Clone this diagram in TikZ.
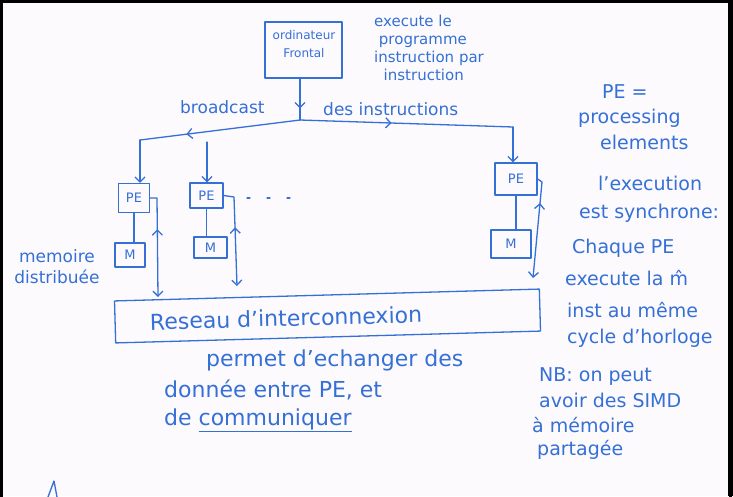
\documentclass[tikz,border=0pt]{standalone}
\usepackage{fontspec}
\setmainfont{DejaVu Sans}
\usetikzlibrary{arrows.meta,decorations.markings}
\definecolor{pen}{RGB}{52,112,214}
\definecolor{paper}{RGB}{253,250,253}
\begin{document}
\begin{tikzpicture}[x=1pt,y=-1pt,
  pen/.style={draw=pen, line width=1.3pt, line cap=round, line join=round},
  penarrow/.style={-{Straight Barb[length=5pt,width=10pt]}},
  box/.style={pen, rectangle, inner sep=0pt, text=pen},
  hw/.style={text=pen, inner sep=0pt, anchor=west},
  midarrow/.style={postaction={decorate}, decoration={markings, mark=at position #1 with {\arrow{Straight Barb[length=5pt,width=10pt]}}}},
  midback/.style={postaction={decorate}, decoration={markings, mark=at position #1 with {\arrowreversed{Straight Barb[length=5pt,width=10pt]}}}},
]
\useasboundingbox (0,0) rectangle (733,496);
\fill[paper] (0,0) rectangle (733,496);

% front-end computer
\node[box, minimum width=77pt, minimum height=56pt] (front) at (303.5,50) {};
\node[hw, anchor=center, align=center, font=\fontsize{12}{18}\selectfont] (fronttext) at (304,44) {ordinateur\\Frontal};
\node[hw, anchor=north west, align=left, font=\fontsize{15}{18}\selectfont] (exec) at (374,15) {execute le\\\ programme\\instruction par\\\ \ instruction};

% broadcast labels
\node[hw, font=\fontsize{17}{20}\selectfont] (bc) at (180,107) {broadcast};
\node[hw, font=\fontsize{17}{20}\selectfont] (di) at (323,109) {des instructions};

% processing elements and memories
\node[box, minimum width=31pt, minimum height=29pt, font=\fontsize{13}{15}\selectfont] (pe1) at (134,198) {PE};
\node[box, minimum width=33pt, minimum height=25pt, font=\fontsize{13}{15}\selectfont] (pe2) at (206.5,195.5) {PE};
\node[box, minimum width=42pt, minimum height=32pt, font=\fontsize{13}{15}\selectfont] (pe3) at (516,179) {PE};
\node[box, minimum width=30pt, minimum height=24pt, font=\fontsize{13}{15}\selectfont] (m1) at (130,255) {M};
\node[box, minimum width=33pt, minimum height=21pt, font=\fontsize{13}{15}\selectfont] (m2) at (210.5,247.5) {M};
\node[box, minimum width=40pt, minimum height=28pt, font=\fontsize{13}{15}\selectfont] (m3) at (511,244) {M};

% interconnection network
\node[box, minimum width=425pt, minimum height=42pt, rotate=1.6] (net) at (327.5,316) {};
\node[hw, anchor=center, rotate=1.6, font=\fontsize{22}{26}\selectfont] (nettext) at (286,318) {Reseau d'interconnexion};

% broadcast tree
\coordinate (split) at (300,120);
\coordinate (lend) at (140,140);
\coordinate (rend) at (513,127);
\coordinate (b2top) at (207,142);
\draw[pen, midarrow=0.72] (front.south -| split) -- (split);
\draw[pen, midarrow=0.71] (split) -- (lend);
\draw[pen, penarrow] (lend) -- (lend |- pe1.north);
\draw[pen, midarrow=0.43] (split) -- (rend);
\draw[pen, penarrow] (rend) -- (rend |- pe3.north);
\draw[pen, penarrow] (b2top) -- (b2top |- pe2.north);

% PE - M links
\draw[pen] (pe1.south) -- (pe1.south |- m1.north);
\draw[pen] (pe2.south) -- (pe2.south |- m2.north);
\draw[pen] (pe3.south) -- (pe3.south |- m3.north);

% PE - network links
\coordinate (h1) at (157,198);
\coordinate (e1) at (158,297);
\coordinate (h2) at (234,197);
\coordinate (e2) at (237,286);
\coordinate (h3) at (542,182);
\coordinate (e3) at (533,278);
\draw[pen, penarrow, midback=0.36] (pe1.east) -- (h1) -- (e1);
\draw[pen, penarrow, midback=0.41] (pe2.east) -- (h2) -- (e2);
\draw[pen, penarrow, midback=0.26] (pe3.east) -- (h3) -- (e3);

% dots
\draw[pen, dash pattern=on 3pt off 17pt] (247,198) -- (294,198);

% left note
\node[hw, anchor=center, align=center, font=\fontsize{17}{21}\selectfont] (mem) at (57,267) {memoire\\distribuée};

% right notes
\node[hw, font=\fontsize{19}{22}\selectfont] (r1) at (602,92) {PE =};
\node[hw, font=\fontsize{19}{22}\selectfont] (r2) at (578,118) {processing};
\node[hw, font=\fontsize{19}{22}\selectfont] (r3) at (600,142) {elements};
\node[hw, font=\fontsize{19}{22}\selectfont] (r4) at (598,183) {l'execution};
\node[hw, font=\fontsize{19}{22}\selectfont] (r5) at (579,213) {est synchrone:};
\node[hw, font=\fontsize{19}{22}\selectfont] (r6) at (572,248) {Chaque PE};
\node[hw, font=\fontsize{19}{22}\selectfont] (r7) at (565,278) {execute la m̂};
\node[hw, font=\fontsize{19}{22}\selectfont] (r8) at (567,310) {inst au même};
\node[hw, font=\fontsize{19}{22}\selectfont] (r9) at (567,338) {cycle d'horloge};

% NB note
\node[hw, font=\fontsize{19}{22}\selectfont] (n1) at (539,377) {NB: on peut};
\node[hw, font=\fontsize{19}{22}\selectfont] (n2) at (539,400) {avoir des SIMD};
\node[hw, font=\fontsize{19}{22}\selectfont] (n3) at (532,425) {à mémoire};
\node[hw, font=\fontsize{19}{22}\selectfont] (n4) at (537,450) {partagée};

% network note
\node[hw, font=\fontsize{22}{26}\selectfont] (b1) at (206,360) {permet d'echanger des};
\node[hw, font=\fontsize{22}{26}\selectfont] (b2) at (164,390) {donnée entre PE, et};
\node[hw, font=\fontsize{22}{26}\selectfont] (b3) at (164,420) {de \underline{communiquer}};

% stray pen mark
\draw[pen] (48,497) -- (54,481) -- (57,497);

% frame
\draw[black, line width=3pt] (1.5,497) -- (1.5,1.5) -- (730.5,1.5) -- (730.5,497);
\fill[black] (728,0) rectangle (733,496);
\end{tikzpicture}
\end{document}
